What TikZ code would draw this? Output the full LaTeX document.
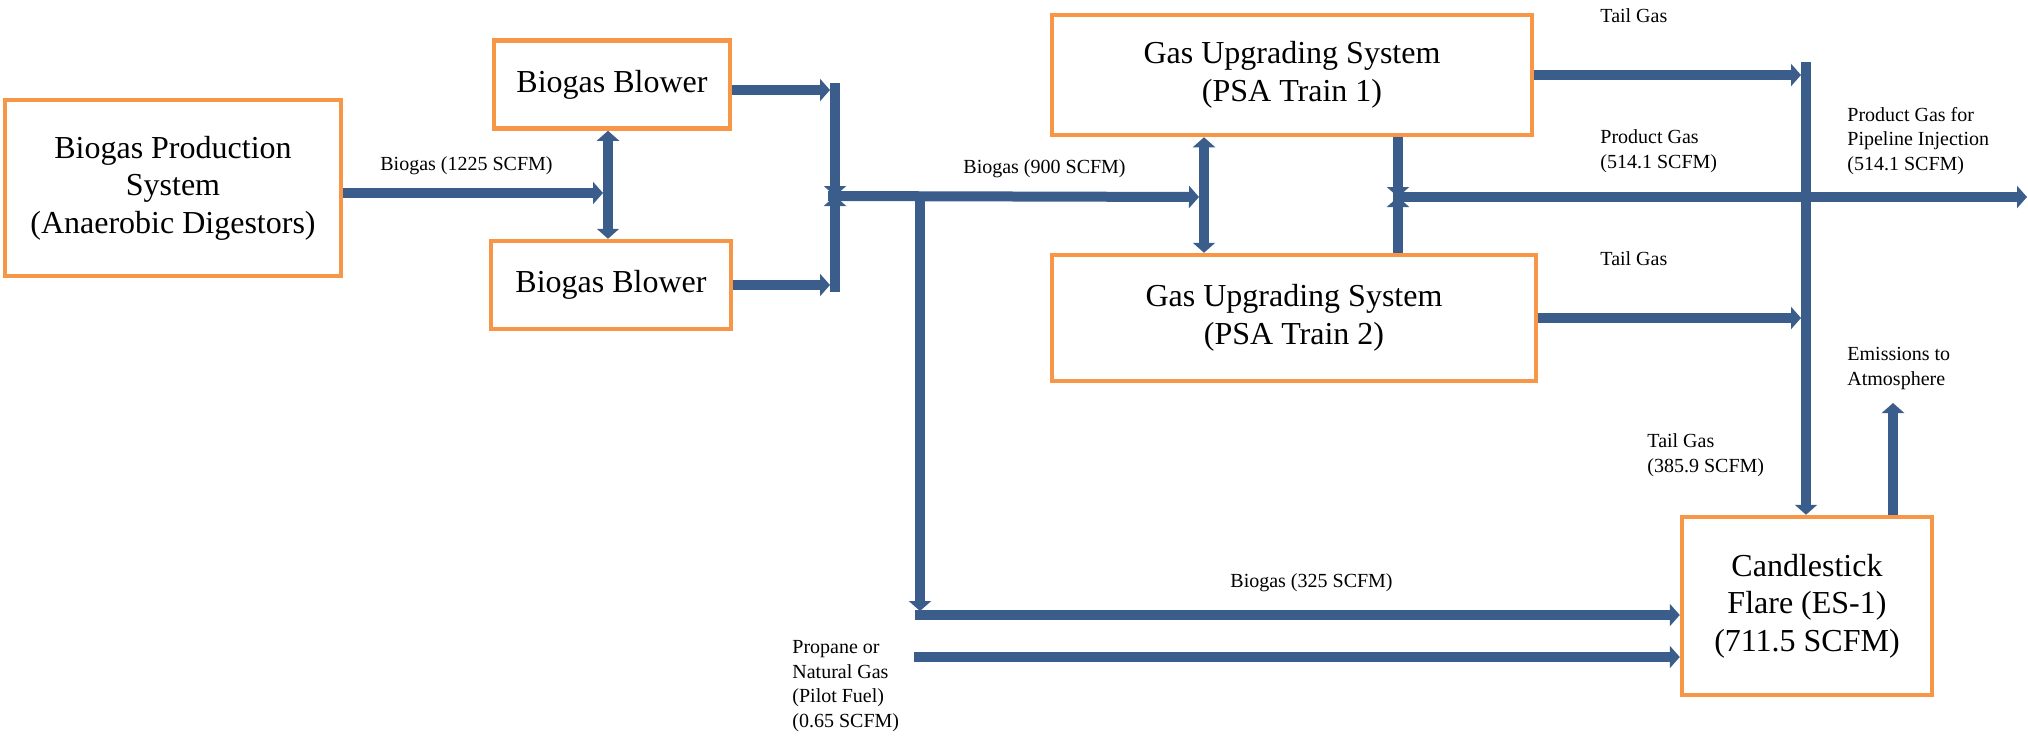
\documentclass[tikz,border=0pt]{standalone}
\usepackage{fontspec}
\setmainfont{Liberation Serif}
\usetikzlibrary{arrows.meta}

\definecolor{boxorange}{HTML}{F79646}
\definecolor{flowblue}{HTML}{3A5D8B}

\tikzset{
	unit/.style={shape=rectangle, draw=boxorange, line width=2.25pt, fill=white, align=center, inner sep=0pt, font=\fontsize{16}{18.75}\selectfont},
	flow/.style={draw=flowblue, line width=5pt, -{Triangle[length=5pt,width=11pt]}},
	both/.style={draw=flowblue, line width=5pt, {Triangle[length=5pt,width=11pt]}-{Triangle[length=5pt,width=11pt]}},
	tag/.style={anchor=base west, align=left, inner sep=0pt, font=\fontsize{10}{12.25}\selectfont}
}

\begin{document}
\begin{tikzpicture}[x=0.5pt, y=-0.5pt]
	\useasboundingbox (0, 0) rectangle (2028, 735);
	\node [unit, minimum width=168pt, minimum height=88pt] (prod) at (173, 188) {Biogas Production\\System\\(Anaerobic Digestors)};
	\node [unit, minimum width=118pt, minimum height=44pt] (blowA) at (612, 84.5) {Biogas Blower};
	\node [unit, minimum width=120pt, minimum height=44pt] (blowB) at (611, 285) {Biogas Blower};
	\node [unit, minimum width=240pt, minimum height=60pt] (psaA) at (1292, 75) {Gas Upgrading System\\(PSA Train 1)};
	\node [unit, minimum width=242pt, minimum height=63pt] (psaB) at (1294, 318) {Gas Upgrading System\\(PSA Train 2)};
	\node [unit, minimum width=125pt, minimum height=89pt] (flare) at (1807, 606) {Candlestick\\Flare (ES-1)\\(711.5 SCFM)};
	\coordinate (spl) at (608, 193);
	\coordinate (mtop) at (835, 83);
	\coordinate (mbot) at (835, 292);
	\coordinate (mrg) at (835, 196);
	\coordinate (spl2) at (1204, 197);
	\coordinate (brk) at (920, 196);
	\coordinate (crn) at (920, 615);
	\coordinate (pilot) at (914, 657);
	\coordinate (tgtop) at (1806, 62);
	\coordinate (pj) at (1398, 197);
	\coordinate (pout) at (2027, 197);
	\coordinate (emis) at (1893, 403);
	\draw [flow, shorten >=2.5pt] (prod.east |- spl) to (spl);
	\draw [both] (blowA.south -| spl) to (blowB.north -| spl);
	\draw [flow, shorten >=2.5pt] ([yshift=-2.75pt]blowA.east) to ([yshift=-2.75pt]blowA.east -| mrg);
	\draw [flow, shorten >=2.5pt] (blowB.east) to (blowB.east -| mrg);
	\draw [flow] (mtop) to (mrg);
	\draw [flow] (mbot) to (mrg);
	\draw [flow, shorten >=2.5pt] ([xshift=-3.5pt]mrg) to (spl2);
	\draw [both] (psaA.south -| spl2) to (psaB.north -| spl2);
	\draw [flow, shorten >=2pt] (brk) to (crn);
	\draw [flow] ([xshift=-2.5pt]crn) to (flare.west |- crn);
	\draw [flow] (pilot) to (flare.west |- pilot);
	\draw [flow, shorten >=2.5pt] (psaA.east) to (psaA.east -| tgtop);
	\draw [flow, shorten >=2.5pt] (psaB.east) to (psaB.east -| tgtop);
	\draw [flow] (psaA.south -| pj) to (pj);
	\draw [flow] (psaB.north -| pj) to (pj);
	\draw [flow] ([xshift=-2.5pt]pj) to (pout);
	\draw [flow] (tgtop) to (flare.north -| tgtop);
	\draw [flow] (flare.north -| emis) to (emis);
	\node [tag] (l1225) at (380, 170) {Biogas (1225 SCFM)};
	\node [tag] (l900) at (963, 173) {Biogas (900 SCFM)};
	\node [tag] (l325) at (1230, 587) {Biogas (325 SCFM)};
	\node [tag] (ltailA) at (1600, 22) {Tail Gas};
	\node [tag] (lprod) at (1600, 168) {Product Gas\\(514.1 SCFM)};
	\node [tag] (ltailB) at (1600, 265) {Tail Gas};
	\node [tag] (lpipe) at (1847, 170) {Product Gas for\\Pipeline Injection\\(514.1 SCFM)};
	\node [tag] (lemis) at (1847, 385) {Emissions to\\Atmosphere};
	\node [tag] (ltailC) at (1647, 472) {Tail Gas\\(385.9 SCFM)};
	\node [tag] (lpilot) at (792, 727) {Propane or\\Natural Gas\\(Pilot Fuel)\\(0.65 SCFM)};
\end{tikzpicture}
\end{document}
